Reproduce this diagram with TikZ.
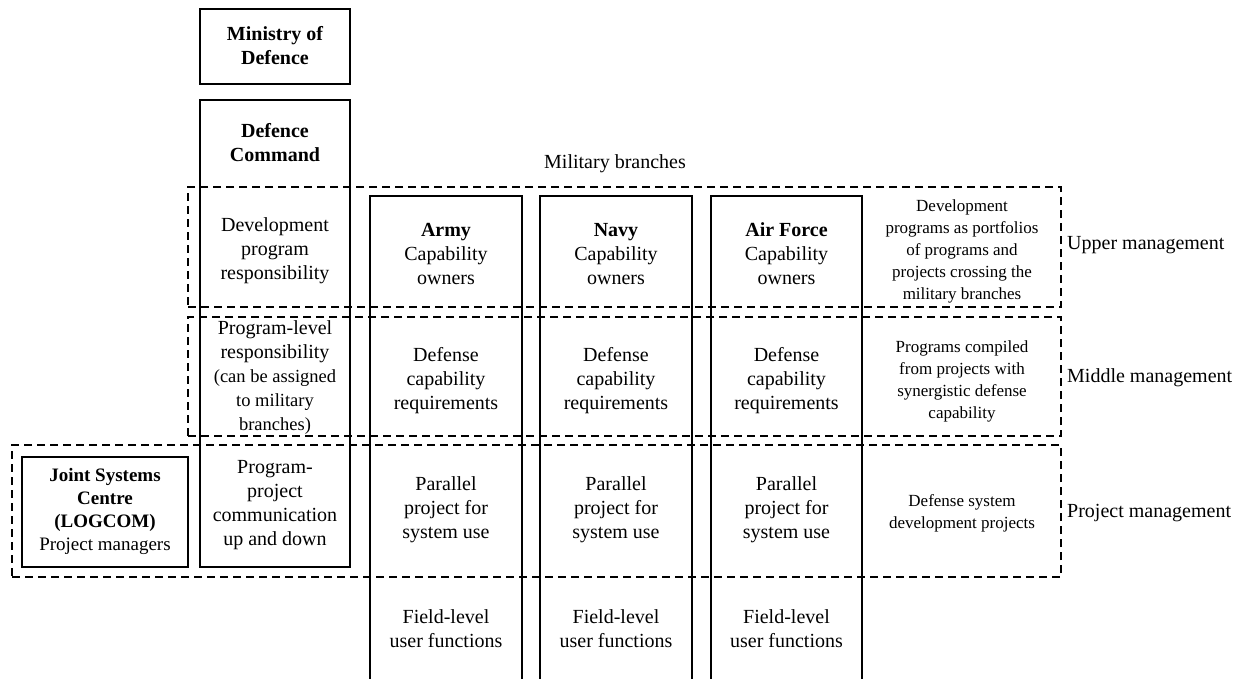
\documentclass[tikz,border=0pt]{standalone}
\usepackage{fontspec}
\setmainfont{Liberation Serif}
\begin{document}
\begin{tikzpicture}[x=1pt,y=-1pt,
  txt/.style={align=center, inner sep=0pt, font=\fontsize{20}{24}\selectfont},
  btxt/.style={align=center, inner sep=0pt, font=\fontsize{20}{24}\selectfont\bfseries},
  jtxt/.style={align=center, inner sep=0pt, font=\fontsize{19}{23}\selectfont},
  stxt/.style={align=center, inner sep=0pt, font=\fontsize{17}{22}\selectfont},
  lbl/.style={anchor=west, inner sep=0pt, font=\fontsize{20}{24}\selectfont},
  solidbox/.style={draw, line width=2pt, anchor=north west, inner sep=0pt, outer sep=0pt},
  dashbox/.style={draw, line width=2pt, dash pattern=on 8pt off 5pt, anchor=north west, inner sep=0pt, outer sep=0pt},
]
\useasboundingbox (0,0) rectangle (1237,678);

% dashed management layers
\node[dashbox, minimum width=873, minimum height=120] (upper) at (188,187) {};
\node[dashbox, minimum width=873, minimum height=119] (middle) at (188,317) {};
\node[dashbox, minimum width=1049, minimum height=132] (project) at (12,445) {};

% solid boxes
\node[solidbox, minimum width=150, minimum height=75] (mod) at (200,9) {};
\node[solidbox, minimum width=150, minimum height=467] (dc) at (200,100) {};
\node[solidbox, minimum width=166, minimum height=110] (jsc) at (22,457) {};
\node[solidbox, minimum width=152, minimum height=500] (army) at (370,196) {};
\node[solidbox, minimum width=152, minimum height=500] (navy) at (540,196) {};
\node[solidbox, minimum width=151, minimum height=500] (airforce) at (711,196) {};

% texts
\node[btxt] (modt) at (275,46) {Ministry of\\Defence};
\node[btxt] (dct) at (275,143) {Defence\\Command};
\node[txt] (dc1) at (275,251) {Development\\program\\responsibility};
\node[txt] (dc2) at (275,378) {Program-level\\responsibility\\{\fontsize{18.5}{23}\selectfont (can be assigned}\\{\fontsize{18.5}{23}\selectfont to military}\\{\fontsize{18.5}{23}\selectfont branches)}};
\node[txt] (dc3) at (275,505) {Program-\\project\\communication\\up and down};
\node[jtxt] (jsct) at (105,511) {\textbf{Joint Systems}\\\textbf{Centre}\\\textbf{(LOGCOM)}\\Project managers};

\node[txt] (mb) at (615,164) {Military branches};

\node[txt] (a1) at (446,254) {\textbf{Army}\\Capability\\owners};
\node[txt] (n1) at (616,254) {\textbf{Navy}\\Capability\\owners};
\node[txt] (f1) at (786.5,254) {\textbf{Air Force}\\Capability\\owners};

\node[txt] (a2) at (446,381) {Defense\\capability\\requirements};
\node[txt] (n2) at (616,381) {Defense\\capability\\requirements};
\node[txt] (f2) at (786.5,381) {Defense\\capability\\requirements};

\node[txt] (a3) at (446,510) {Parallel\\project for\\system use};
\node[txt] (n3) at (616,510) {Parallel\\project for\\system use};
\node[txt] (f3) at (786.5,510) {Parallel\\project for\\system use};

\node[txt] (a4) at (446,629) {Field-level\\user functions};
\node[txt] (n4) at (616,629) {Field-level\\user functions};
\node[txt] (f4) at (786.5,629) {Field-level\\user functions};

\node[stxt] (r1) at (962,251) {Development\\programs as portfolios\\of programs and\\projects crossing the\\military branches};
\node[stxt] (r2) at (962,381) {Programs compiled\\from projects with\\synergistic defense\\capability};
\node[stxt] (r3) at (962,513) {Defense system\\development projects};

\node[lbl] (l1) at (1067,245) {Upper management};
\node[lbl] (l2) at (1067,378) {Middle management};
\node[lbl] (l3) at (1067,513) {Project management};
\end{tikzpicture}
\end{document}
